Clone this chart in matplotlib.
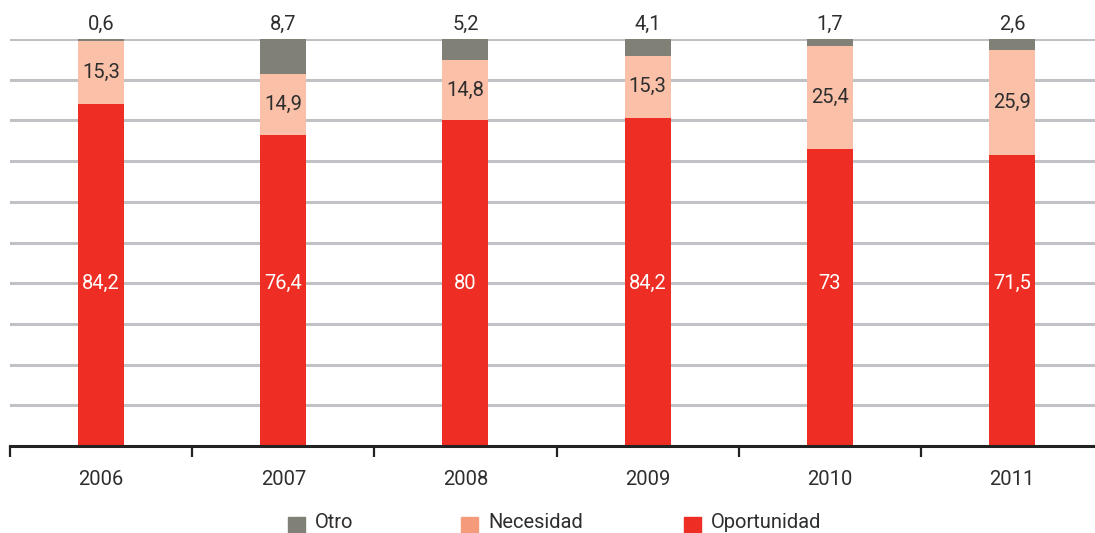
import matplotlib
matplotlib.use("Agg")
import matplotlib.pyplot as plt
from matplotlib.patches import Rectangle
import numpy as np

years = ['2006', '2007', '2008', '2009', '2010', '2011']
otro = [0.6, 8.7, 5.2, 4.1, 1.7, 2.6]
necesidad = [15.3, 14.9, 14.8, 15.3, 25.4, 25.9]
oportunidad = [84.2, 76.4, 80.0, 80.6, 73.0, 71.5]
oportunidad_labels = ['84,2', '76,4', '80', '84,2', '73', '71,5']
series_names = ['Otro', 'Necesidad', 'Oportunidad']

C_RED = '#EE2E24'
C_PINK = '#FBC0A8'
C_PINK_LEG = '#F69A7C'
C_GRAY = '#818076'
C_TEXT = '#2E2E2E'

plt.rcParams['font.family'] = ['Roboto', 'DejaVu Sans']
FS = 14.5
FW = 'normal'

W, H = 1095, 533
fig = plt.figure(figsize=(W / 100, H / 100), dpi=100)
ax = fig.add_axes([10 / W, 87 / H, 1093 / W, 407 / H])

x = np.arange(len(years))
tot = np.array(otro) + np.array(necesidad) + np.array(oportunidad)
op = np.array(oportunidad) / tot * 100
ne = np.array(necesidad) / tot * 100
ot = np.array(otro) / tot * 100

bw = 0.253
ax.bar(x, op, width=bw, color=C_RED, zorder=3)
ax.bar(x, ne, width=bw, bottom=op, color=C_PINK, zorder=3)
ax.bar(x, ot, width=bw, bottom=op + ne, color=C_GRAY, zorder=3)

for i in range(len(years)):
    ax.text(x[i], 40, oportunidad_labels[i], ha='center', va='center',
            color='white', fontsize=FS, fontweight=FW, zorder=4)
    ax.text(x[i], op[i] + ne[i] / 2, f"{necesidad[i]:g}".replace('.', ','),
            ha='center', va='center', color=C_TEXT, fontsize=FS,
            fontweight=FW, zorder=4)
    ax.annotate(f"{otro[i]:g}".replace('.', ','), (x[i], 100),
                xytext=(0, 5), textcoords='offset pixels', ha='center',
                va='bottom', color=C_TEXT, fontsize=FS, fontweight=FW)

ax.set_xlim(-0.5, len(years) - 0.5)
ax.set_ylim(0, 100)
ax.set_yticks(np.arange(10, 101, 10))
ax.yaxis.grid(True, color='#C2C1C6', linewidth=2.2, zorder=0)
ax.tick_params(axis='y', length=0, labelleft=False)

ax.set_xticks(x)
ax.set_xticklabels(years, fontsize=FS, color=C_TEXT, fontweight=FW)
ax.set_xticks(np.arange(-0.5, len(years)), minor=True)
ax.tick_params(axis='x', which='major', length=0, pad=17)
ax.tick_params(axis='x', which='minor', length=8, width=1.6, color='#222222')

for s in ['left', 'right', 'top']:
    ax.spines[s].set_visible(False)
ax.spines['bottom'].set_color('#222222')
ax.spines['bottom'].set_linewidth(2.2)
ax.spines['bottom'].set_zorder(5)

# legend
leg_items = [(series_names[0], C_GRAY, 288), (series_names[1], C_PINK_LEG, 461),
             (series_names[2], C_RED, 684)]
for name, col, px in leg_items:
    fig.add_artist(Rectangle((px / W, 0 / H), 17 / W, 16 / H,
                             transform=fig.transFigure, color=col))
    fig.text((px + 27) / W, 5 / H, name, fontsize=FS, color=C_TEXT,
             va='baseline', ha='left', fontweight=FW)

fig.savefig('out.png', dpi=100)
